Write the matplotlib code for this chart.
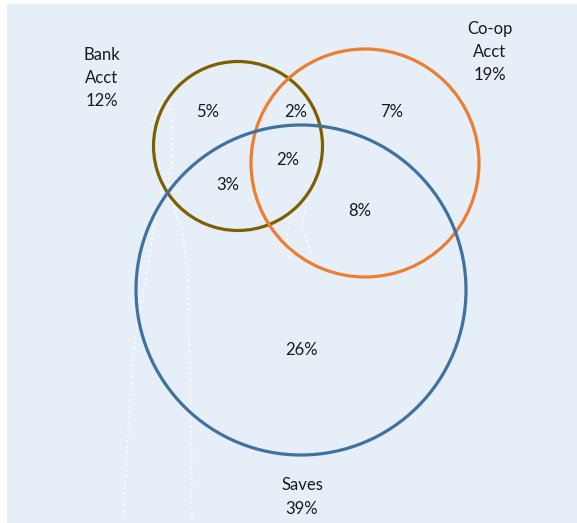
import matplotlib.pyplot as plt
from matplotlib.patches import Circle

plt.rcParams['font.family'] = ['Lato', 'DejaVu Sans']

# groups (outer labels) and their totals
groups = ['Bank\nAcct', 'Co-op\nAcct', 'Saves']
totals = [12, 19, 39]

# overlap regions
regions = ['Bank only', 'Bank & Co-op', 'Co-op only', 'All three',
           'Bank & Saves', 'Co-op & Saves', 'Saves only']
shares = [5, 2, 7, 2, 3, 8, 26]

bg = '#e6eef8'
colors = ['#7f6000', '#ed7d31', '#41729f']

fig = plt.figure(figsize=(5.77, 5.23), dpi=100)
ax = fig.add_axes([7 / 577, 0, 570 / 577, 519 / 523])
ax.set_facecolor(bg)
ax.set_xlim(7, 577)
ax.set_ylim(523, 4)
ax.set_xticks([])
ax.set_yticks([])
for s in ax.spines.values():
    s.set_visible(False)

# faint dotted leftovers
dots = dict(color='white', ls=(0, (1, 2)), lw=1.4, alpha=0.95, zorder=1)
ax.plot([165, 152, 155, 162, 153, 147, 135, 128, 123],
        [97, 123, 163, 190, 230, 273, 337, 430, 520], **dots)
ax.plot([168, 172, 172, 167, 182, 188, 189, 191, 192],
        [97, 123, 163, 190, 230, 273, 337, 430, 520], **dots)
ax.plot([292, 287, 290], [210, 235, 262], **dots)
ax.plot([307, 303, 312], [200, 225, 258], **dots)

# circles: centre x, centre y, radius (pixels)
circ = [(238, 146, 84.5), (365, 163, 114), (301, 290, 165)]
for (cx, cy, r), c in zip(circ, colors):
    ax.add_patch(Circle((cx, cy), r, fill=False, ec=c, lw=2.3, zorder=2))

group_pos = [(102, 78), (490, 52), (302, 497)]
for g, t, (x, y) in zip(groups, totals, group_pos):
    ax.text(x, y, f'{g}\n{t}%', ha='center', va='center', fontsize=12,
            color='#1a1a1a', linespacing=1.55, zorder=3)

region_pos = [(208, 112), (296, 112), (392, 112), (288, 160),
              (228, 185), (360, 211), (302, 350)]
for v, (x, y) in zip(shares, region_pos):
    ax.text(x, y, f'{v}%', ha='center', va='center', fontsize=12,
            color='#1a1a1a', zorder=3)

fig.savefig('out.png', dpi=100, facecolor='white')
